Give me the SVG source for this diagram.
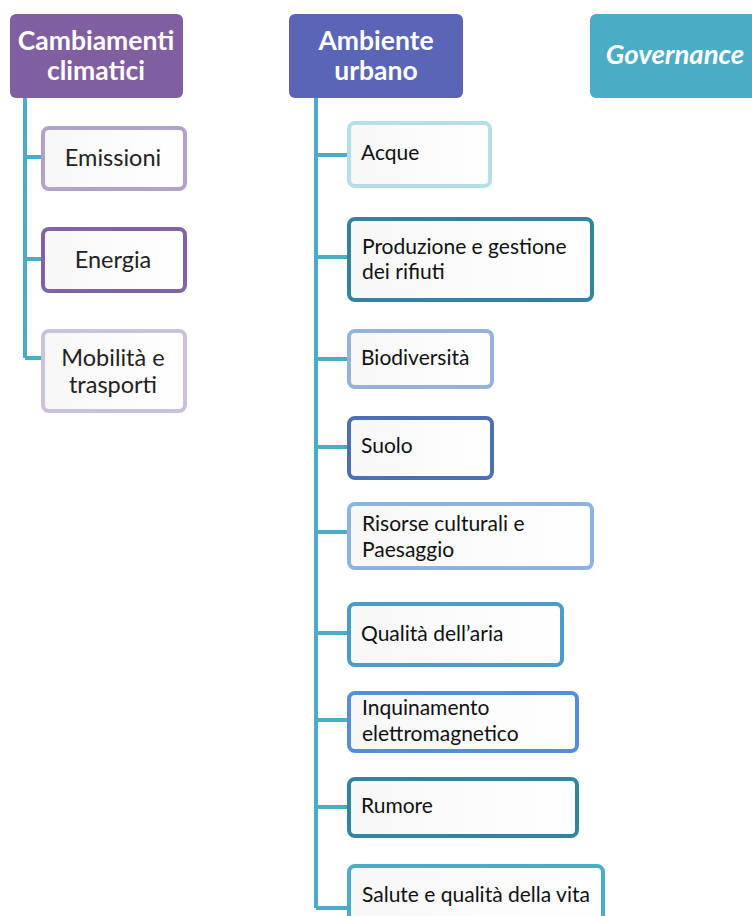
<svg xmlns="http://www.w3.org/2000/svg" width="752" height="916" viewBox="0 0 752 916">
<defs>
<linearGradient id="boxfill" x1="0" y1="0" x2="1" y2="0">
<stop offset="0" stop-color="#f7f7f7"/>
<stop offset="1" stop-color="#ffffff"/>
</linearGradient>
<style>
.hdr{stroke:none}
.htxt{font-family:Lato,"Liberation Sans",sans-serif;font-weight:bold;font-size:26.5px;fill:#ffffff;text-anchor:middle}
.box{fill:url(#boxfill);stroke-width:4}
.ltxt{font-family:Lato,"Liberation Sans",sans-serif;font-size:23.5px;fill:#222222;text-anchor:middle}
.mtxt{font-family:Lato,"Liberation Sans",sans-serif;font-size:21px;fill:#111111}
.conn{stroke:#4bacc6;stroke-width:4;fill:none}
</style>
</defs>
<rect width="752" height="916" fill="#ffffff"/>
<g id="connectors">
<path class="conn" d="M25 97 V358 M25 157 H63 M25 259 H62 M25 358 H63"/>
<path class="conn" d="M316 97 V908 M316 155 H360 M316 257 H360 M316 359 H360 M316 447 H360 M316 532 H360 M316 633 H360 M316 720 H360 M316 807 H360 M316 908 H362"/>
</g>
<g id="cambiamenti">
<rect class="hdr" x="10" y="14" width="173" height="84" rx="6" fill="#7f5f9f"/>
<text class="htxt" x="96" y="50">Cambiamenti</text>
<text class="htxt" x="96" y="80">climatici</text>
</g>
<g id="emissioni">
<rect class="box" x="43" y="128" width="142" height="61" rx="6" stroke="#b3a2c7"/>
<text class="ltxt" x="113" y="166">Emissioni</text>
</g>
<g id="energia">
<rect class="box" x="43" y="229" width="142" height="62" rx="6" stroke="#8064a2"/>
<text class="ltxt" x="113" y="268">Energia</text>
</g>
<g id="mobilita">
<rect class="box" x="43" y="331" width="142" height="80" rx="6" stroke="#ccc1da"/>
<text class="ltxt" x="113" y="366">Mobilità e</text>
<text class="ltxt" x="113" y="393">trasporti</text>
</g>
<g id="ambiente">
<rect class="hdr" x="289" y="14" width="174" height="84" rx="6" fill="#5a65b5"/>
<text class="htxt" x="376" y="50">Ambiente</text>
<text class="htxt" x="376" y="80">urbano</text>
</g>
<g id="governance">
<rect class="hdr" x="590" y="14" width="170" height="84" rx="6" fill="#4bacc6"/>
<text class="htxt" x="675" y="64" style="font-style:italic;font-size:27.5px">Governance</text>
</g>
<g id="acque">
<rect class="box" x="349" y="123" width="141" height="63" rx="6" stroke="#b7dde8"/>
<text class="mtxt" x="361" y="160">Acque</text>
</g>
<g id="rifiuti">
<rect class="box" x="349" y="219" width="243" height="81" rx="6" stroke="#31849b"/>
<text class="mtxt" x="362" y="254">Produzione e gestione</text>
<text class="mtxt" x="362" y="279">dei rifiuti</text>
</g>
<g id="biodiversita">
<rect class="box" x="349" y="331" width="143" height="56" rx="6" stroke="#95b3d7"/>
<text class="mtxt" x="361" y="365">Biodiversità</text>
</g>
<g id="suolo">
<rect class="box" x="349" y="418" width="143" height="60" rx="6" stroke="#4f6fb3"/>
<text class="mtxt" x="361" y="453">Suolo</text>
</g>
<g id="risorse">
<rect class="box" x="349" y="504" width="243" height="64" rx="6" stroke="#8db3e2"/>
<text class="mtxt" x="362" y="531">Risorse culturali e</text>
<text class="mtxt" x="362" y="557">Paesaggio</text>
</g>
<g id="aria">
<rect class="box" x="349" y="604" width="213" height="61" rx="6" stroke="#4b9cc6"/>
<text class="mtxt" x="361" y="641">Qualità dell’aria</text>
</g>
<g id="inquinamento">
<rect class="box" x="349" y="693" width="228" height="58" rx="6" stroke="#558ed5"/>
<text class="mtxt" x="362" y="715">Inquinamento</text>
<text class="mtxt" x="362" y="741">elettromagnetico</text>
</g>
<g id="rumore">
<rect class="box" x="349" y="779" width="228" height="57" rx="6" stroke="#31859c"/>
<text class="mtxt" x="361" y="813">Rumore</text>
</g>
<g id="salute">
<rect class="box" x="349" y="866" width="254" height="70" rx="6" stroke="#4bacc6"/>
<text class="mtxt" x="362" y="902">Salute e qualità della vita</text>
</g>
</svg>
